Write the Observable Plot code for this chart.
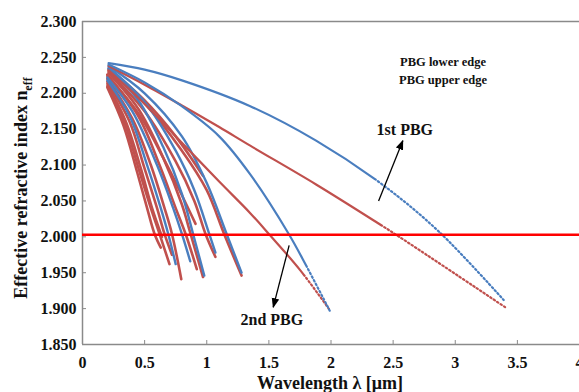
<!DOCTYPE html>
<html><head><meta charset="utf-8">
<script src="https://cdn.jsdelivr.net/npm/d3@7"></script>
<script src="https://cdn.jsdelivr.net/npm/@observablehq/plot@0.6"></script>
<style>
body{margin:0;background:#fff}
#chart{position:relative;width:579px;height:392px;overflow:hidden}
</style>
</head><body><div id="chart"></div>
<script>
// ---- tick values ----
const xTicks = [0, 0.5, 1, 1.5, 2, 2.5, 3, 3.5, 4];
const yTicks = [1.85, 1.90, 1.95, 2.00, 2.05, 2.10, 2.15, 2.20, 2.25, 2.30];
const thresholdIndex = [2.003];

// ---- PBG lower edges (blue) : [wavelength, n_eff] ----
const lower1 = [[0.21,2.242],[0.5,2.233],[0.8,2.218],[1.35,2.182],[1.88,2.134],[2.42,2.072],[2.87,2.007],[3.39,1.912]];
const lower2 = [[0.21,2.240],[0.5,2.215],[0.79,2.183],[1.1,2.140],[1.35,2.087],[1.66,2.004],[1.8,1.960],[1.99,1.897]];
const lower3 = [[0.21,2.238],[0.5,2.200],[0.8,2.140],[1.0,2.075],[1.16,2.004],[1.28,1.950]];
const lower4 = [[0.21,2.236],[0.5,2.188],[0.75,2.120],[0.9,2.065],[1.02,2.004],[1.07,1.978]];
const lower5 = [[0.21,2.234],[0.45,2.190],[0.65,2.125],[0.8,2.060],[0.89,2.004],[0.98,1.946]];
const lower6 = [[0.2,2.222],[0.4,2.175],[0.6,2.100],[0.73,2.040],[0.8,2.004],[0.867,1.966]];
const lower7 = [[0.2,2.218],[0.38,2.168],[0.52,2.100],[0.63,2.040],[0.69,2.004],[0.75,1.962]];

// ---- PBG upper edges (red) ----
const upper1 = [[0.21,2.238],[0.5,2.212],[0.8,2.183],[1.1,2.153],[1.35,2.127],[1.88,2.073],[2.37,2.020],[2.55,2.000],[3.41,1.901]];
const upper2 = [[0.21,2.232],[0.5,2.185],[0.8,2.131],[1.1,2.077],[1.35,2.033],[1.5,2.004],[1.75,1.954],[1.99,1.898]];
const upper3 = [[0.21,2.232],[0.5,2.186],[0.8,2.120],[1.0,2.065],[1.14,2.004],[1.28,1.946]];
const upper4 = [[0.21,2.234],[0.5,2.190],[0.75,2.140],[0.97,2.085]];
const upper5 = [[0.21,2.230],[0.5,2.175],[0.75,2.105],[0.9,2.050],[0.99,2.004],[1.07,1.972]];
const upper6 = [[0.21,2.228],[0.45,2.178],[0.65,2.110],[0.8,2.045],[0.87,2.004],[0.97,1.944]];
const upper7 = [[0.2,2.226],[0.45,2.168],[0.62,2.100],[0.75,2.040],[0.83,2.004],[0.92,1.955]];
const upper8 = [[0.2,2.224],[0.45,2.172],[0.65,2.110],[0.8,2.058],[0.91,2.018]];
const upper9 = [[0.2,2.220],[0.4,2.165],[0.55,2.100],[0.66,2.040],[0.72,2.004],[0.795,1.941]];
const upper10 = [[0.2,2.216],[0.38,2.160],[0.5,2.095],[0.6,2.040],[0.66,2.004],[0.72,1.975]];
const upper11 = [[0.2,2.213],[0.35,2.160],[0.47,2.095],[0.56,2.040],[0.64,2.000]];
const upper12 = [[0.2,2.210],[0.34,2.158],[0.46,2.090],[0.55,2.040],[0.62,2.004],[0.70,1.962]];
const upper13 = [[0.2,2.208],[0.33,2.155],[0.44,2.090],[0.52,2.040],[0.58,2.004],[0.63,1.985]];

// wavelength beyond which the sampled points appear as separate dots
const dottedFrom = {L1: 2.35, U1: 2.4, L2: 1.8, U2: 1.78};

// ---- annotations ----
const annLabels = [
  {x: 2.594, y: 2.1495, text: "1st PBG"},
  {x: 1.524, y: 1.884, text: "2nd PBG"}
];
const annArrows = [
  {x1: 2.383, y1: 2.050, x2: 2.578, y2: 2.134},
  {x1: 1.663, y1: 1.988, x2: 1.535, y2: 1.902}
];
const legendItems = ["PBG lower edge", "PBG upper edge"];

const BLUE = "#4a7ebf", RED = "#c0504d";
const SERIF = "Liberation Serif, Times New Roman, serif";

const curves = [
  ["U1", "upper", upper1], ["U2", "upper", upper2], ["U3", "upper", upper3], ["U4", "upper", upper4],
  ["U5", "upper", upper5], ["U6", "upper", upper6], ["U7", "upper", upper7], ["U8", "upper", upper8],
  ["U9", "upper", upper9], ["U10", "upper", upper10], ["U11", "upper", upper11], ["U12", "upper", upper12],
  ["U13", "upper", upper13],
  ["L1", "lower", lower1], ["L2", "lower", lower2], ["L3", "lower", lower3], ["L4", "lower", lower4],
  ["L5", "lower", lower5], ["L6", "lower", lower6], ["L7", "lower", lower7]
];

const rows = [];
for (const [id, edge, pts] of curves) for (const [x, y] of pts) rows.push({id, edge, x, y});
const isLong = d => d.id in dottedFrom;

const lineMarks = [];
lineMarks.push(Plot.line(rows.filter(d => !isLong(d) && d.edge === "upper"), {x: "x", y: "y", z: "id", stroke: "edge", strokeWidth: 2.6, curve: "catmull-rom"}));
lineMarks.push(Plot.line(rows.filter(d => !isLong(d) && d.edge === "lower"), {x: "x", y: "y", z: "id", stroke: "edge", strokeWidth: 2.4, curve: "catmull-rom"}));
for (const id of ["U1", "U2", "L1", "L2"]) {
  lineMarks.push(Plot.line(rows.filter(d => d.id === id), {x: "x", y: "y", stroke: "edge", strokeWidth: 2.2, curve: "catmull-rom", className: "long-" + id}));
}

const plot = Plot.plot({
  width: 579,
  height: 392,
  marginLeft: 82,
  marginRight: 0,
  marginTop: 21,
  marginBottom: 48,
  style: {fontFamily: SERIF, fontWeight: "bold", fontSize: "16px", color: "#111", background: "#fff"},
  x: {domain: [0, 4]},
  y: {domain: [1.85, 2.3]},
  color: {domain: ["lower", "upper"], range: [BLUE, RED]},
  marks: [
    Plot.ruleX([0], {stroke: "#8a8a8a", strokeWidth: 1.5}),
    Plot.ruleY([1.85], {stroke: "#8a8a8a", strokeWidth: 1.5}),
    Plot.ruleY([2.3], {stroke: "#8a8a8a", strokeWidth: 1.5}),
    Plot.axisY(yTicks, {tickSize: 0, tickPadding: 6, tickFormat: d3.format(".3f"), label: null}),
    Plot.axisY(yTicks, {tickSize: 4, dx: 4, tickFormat: () => "", label: null, stroke: "#8a8a8a"}),
    Plot.axisX(xTicks, {tickSize: 0, tickPadding: 12, tickFormat: d => String(d), label: null}),
    Plot.axisX(xTicks, {tickSize: 4, dy: -4, tickFormat: () => "", label: null, stroke: "#8a8a8a"}),
    ...lineMarks,
    Plot.ruleY(thresholdIndex, {stroke: "#ff0000", strokeWidth: 2.6}),
    Plot.link(annArrows, {x1: "x1", y1: "y1", x2: "x2", y2: "y2", stroke: "#000", strokeWidth: 1.3}),
    Plot.text(annLabels, {x: "x", y: "y", text: "text", fontSize: 16, fontWeight: "bold", fill: "#111", fontFamily: SERIF})
  ]
});

document.getElementById("chart").appendChild(plot);

const svg = d3.select(plot);

// dotted tails: solid up to the wavelength in dottedFrom, then dots
const xScale = plot.scale("x");
for (const id of Object.keys(dottedFrom)) {
  const path = plot.querySelector(".long-" + id + " path");
  if (!path || !path.getTotalLength) continue;
  const L = path.getTotalLength();
  const px = xScale.apply(dottedFrom[id]);
  let lo = 0, hi = L;
  for (let k = 0; k < 30; k++) {
    const mid = (lo + hi) / 2;
    if (path.getPointAtLength(mid).x < px) lo = mid; else hi = mid;
  }
  const dash = [lo.toFixed(2), 0];
  for (let s = lo; s < L + 4; s += 4.1) dash.push(1.5, 2.6);
  path.setAttribute("stroke-dasharray", dash.join(" "));
}

// filled arrowheads
const defs = svg.append("defs");
defs.append("marker")
  .attr("id", "ah").attr("viewBox", "0 0 10 10").attr("refX", 9).attr("refY", 5)
  .attr("markerWidth", 10).attr("markerHeight", 10).attr("markerUnits", "userSpaceOnUse")
  .attr("orient", "auto")
  .append("path").attr("d", "M0,1.2 L10,5 L0,8.8 Z").attr("fill", "#000");
svg.selectAll("g[aria-label=link] path").attr("marker-end", "url(#ah)");

// legend
const lg = svg.append("g").style("font-family", SERIF).style("font-weight", "bold").style("font-size", "12.5px");
legendItems.forEach((t, i) => {
  const y = 62 + i * 18;
  lg.append("circle").attr("cx", 437).attr("cy", y).attr("r", 1.3).attr("fill", i === 0 ? BLUE : RED);
  lg.append("text").attr("x", 443).attr("y", y).attr("dy", "0.35em").attr("fill", "#111").text(t);
});

// axis titles
const yt = svg.append("text")
  .attr("transform", "translate(21,188) rotate(-90)")
  .attr("text-anchor", "middle").attr("dy", "0.35em")
  .style("font-family", SERIF).style("font-weight", "bold").style("font-size", "18px").attr("fill", "#111");
yt.append("tspan").text("Effective refractive index n");
yt.append("tspan").style("font-size", "12px").attr("dy", "0.35em").text("eff");

svg.append("text")
  .attr("x", 330).attr("y", 383).attr("dy", "0.35em").attr("text-anchor", "middle")
  .style("font-family", SERIF).style("font-weight", "bold").style("font-size", "18px").attr("fill", "#111")
  .text("Wavelength λ [μm]");
</script>
</body></html>
